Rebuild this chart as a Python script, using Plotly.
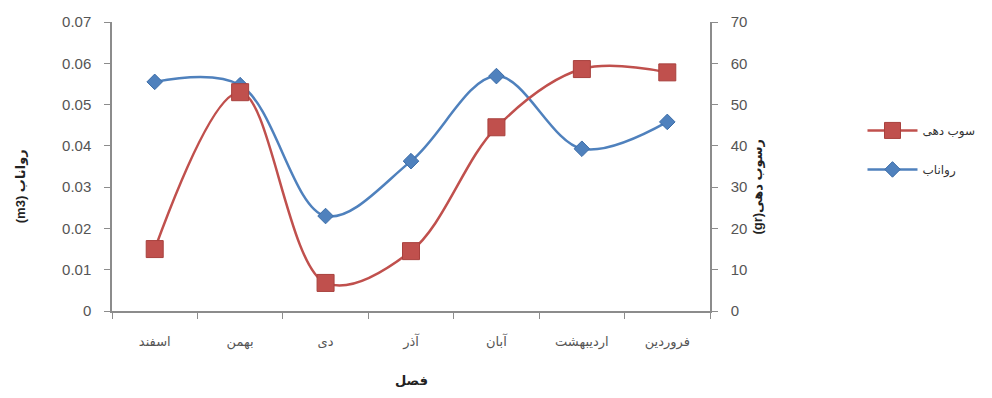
import plotly.graph_objects as go

categories = ["اسفند", "بهمن", "دی", "آذر", "آبان", "اردیبهشت", "فروردین"]
runoff = [0.0555, 0.0547, 0.0230, 0.0363, 0.0569, 0.0393, 0.0458]   # رواناب (m3), left axis
sediment = [15.0, 53.0, 6.8, 14.5, 44.5, 58.6, 57.8]               # رسوب دهی (gr), right axis

FONT = "Liberation Sans, DejaVu Sans, sans-serif"
AXIS_COLOR = "#8c8c8c"
TICK_COLOR = "#555555"
RLE, PDF = "\u202b", "\u202c"

fig = go.Figure()

fig.add_trace(go.Scatter(
    x=categories, y=runoff, name="رواناب", yaxis="y",
    mode="lines+markers",
    line=dict(color="#4F81BD", width=2.5, shape="spline", smoothing=1.0),
    marker=dict(symbol="diamond", size=12, color="#4F81BD", line=dict(color="#3c6da8", width=1)),
    legendrank=2, legendgroup="b",
))
fig.add_trace(go.Scatter(
    x=categories, y=sediment, name="سوب دهی", yaxis="y2",
    mode="lines+markers",
    line=dict(color="#C0504D", width=2.5, shape="spline", smoothing=1.0),
    marker=dict(symbol="square", size=17, color="#C0504D", line=dict(color="#a8403d", width=1)),
    legendrank=1, legendgroup="a",
))

fig.update_layout(
    width=992, height=398,
    margin=dict(l=112, r=280, t=22, b=87),
    paper_bgcolor="white", plot_bgcolor="white",
    font=dict(family=FONT, size=13, color=TICK_COLOR),
    showlegend=True,
    legend=dict(x=1.255, y=0.675, xanchor="left", yanchor="top",
                font=dict(size=12, color="#333333"),
                bgcolor="rgba(0,0,0,0)", itemwidth=50, tracegroupgap=20),
    xaxis=dict(
        type="category", showgrid=False, zeroline=False,
        showline=True, linecolor=AXIS_COLOR, linewidth=1.5,
        ticks="outside", tickson="boundaries", ticklen=6, tickcolor=AXIS_COLOR,
        tickfont=dict(size=13, color=TICK_COLOR), ticklabelstandoff=18,
        range=[-0.5, 6.5],
    ),
    yaxis=dict(
        range=[0, 0.07], dtick=0.01, showgrid=False, zeroline=False,
        showline=True, linecolor=AXIS_COLOR, linewidth=1.5,
        ticks="outside", ticklen=6, tickcolor=AXIS_COLOR,
        tickfont=dict(size=15, color=TICK_COLOR), ticklabelstandoff=10,
    ),
    yaxis2=dict(
        range=[0, 70], dtick=10, overlaying="y", side="right",
        showgrid=False, zeroline=False,
        showline=True, linecolor=AXIS_COLOR, linewidth=1.5,
        ticks="outside", ticklen=6, tickcolor=AXIS_COLOR,
        tickfont=dict(size=15, color=TICK_COLOR), ticklabelstandoff=10,
    ),
    annotations=[
        dict(text="<b>" + RLE + "رواناب (m3)" + PDF + "</b>", xref="paper", yref="paper",
             x=-0.153, y=0.43, textangle=-90, showarrow=False,
             font=dict(size=13, color="#222222"), xanchor="center", yanchor="middle"),
        dict(text="<b>" + RLE + "رسوب دهی(gr)" + PDF + "</b>", xref="paper", yref="paper",
             x=1.08, y=0.43, textangle=-90, showarrow=False,
             font=dict(size=13, color="#222222"), xanchor="center", yanchor="middle"),
        dict(text="<b>فصل</b>", xref="paper", yref="paper",
             x=0.5, y=-0.24, showarrow=False,
             font=dict(size=13, color="#222222"), xanchor="center", yanchor="middle"),
    ],
)

fig.write_html("out.html")
